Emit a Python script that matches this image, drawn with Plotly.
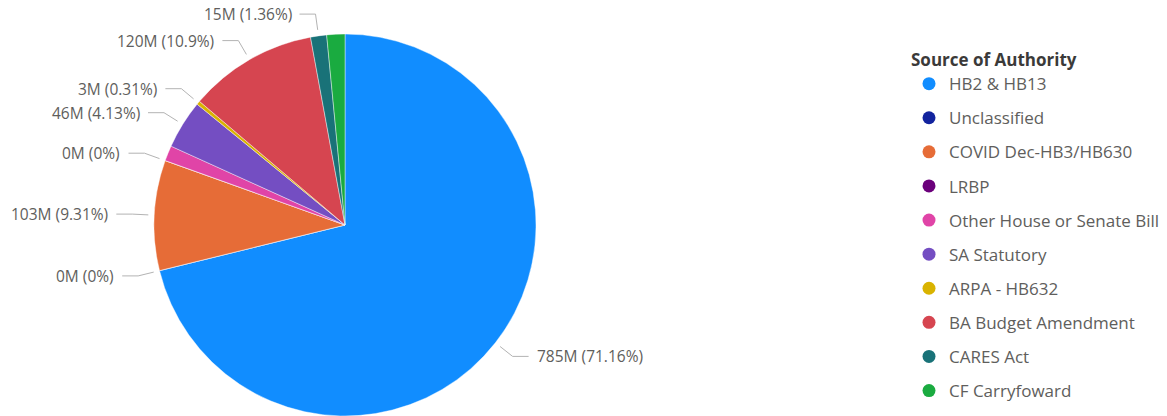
import math
import plotly.graph_objects as go

# ---- data ----
labels = ["HB2 & HB13", "Unclassified", "COVID Dec-HB3/HB630", "LRBP",
          "Other House or Senate Bill", "SA Statutory", "ARPA - HB632",
          "BA Budget Amendment", "CARES Act", "CF Carryfoward"]
values = [785.0, 0.04, 102.7, 0.03, 14.3, 45.55, 3.4, 120.25, 15.0, 16.88]  # millions
colors = ["#118DFF", "#12239E", "#E66C37", "#6B007B", "#E044A7",
          "#744EC2", "#D9B300", "#D64550", "#197278", "#1AAB40"]
show_label = [True, True, True, True, False, True, True, True, True, False]
legend_title = "Source of Authority"

# ---- layout geometry ----
W, H = 1167, 416
CX, CY, R = 345, 225, 191
FONT = "Segoe UI, Open Sans, sans-serif"
LABEL_COLOR = "#605E5C"
LINE_COLOR = "#B3B3B3"

fig = go.Figure()

fig.add_trace(go.Pie(
    labels=labels, values=values, sort=False, direction="clockwise", rotation=0,
    marker=dict(colors=colors, line=dict(color="rgba(255,255,255,0.7)", width=0.6)),
    textinfo="none", showlegend=False, hole=0,
    domain=dict(x=[(CX - R) / W, (CX + R) / W], y=[(H - CY - R) / H, (H - CY + R) / H]),
))

# legend entries with round markers
for lab, col in zip(labels, colors):
    fig.add_trace(go.Scatter(x=[None], y=[None], mode="markers", name=lab,
                             legendgroup=lab,
                             marker=dict(color=col, size=13, symbol="circle"),
                             xaxis="x", yaxis="y", hoverinfo="skip"))

# outside labels with leader lines computed from slice angles
total = sum(values)
cum = 0.0
shapes = []
annotations = []
for v, show in zip(values, show_label):
    mid = (cum + v / 2) / total * 2 * math.pi
    cum += v
    if not show:
        continue
    pct = v / total * 100
    pct_txt = f"{pct:.2f}".rstrip("0").rstrip(".")
    txt = f"{v:.0f}M ({pct_txt}%)"
    sx, sy = math.sin(mid), -math.cos(mid)
    x0, y0 = CX + (R + 6) * sx, CY + (R + 6) * sy
    x1, y1 = CX + (R + 22) * sx, CY + (R + 22) * sy
    side = 1 if sx >= 0 else -1
    x2 = x1 + side * 16
    shapes.append(dict(type="path", xref="x", yref="y",
                       path=f"M{x0:.1f},{y0:.1f} L{x1:.1f},{y1:.1f} L{x2:.1f},{y1:.1f}",
                       line=dict(color=LINE_COLOR, width=1)))
    annotations.append(dict(x=x2 + side * 6, y=y1, xref="x", yref="y", text=txt,
                            showarrow=False, xanchor="left" if side > 0 else "right",
                            yanchor="middle",
                            font=dict(family=FONT, size=15.5, color=LABEL_COLOR)))

fig.update_layout(
    width=W, height=H,
    margin=dict(l=0, r=0, t=0, b=0),
    paper_bgcolor="white", plot_bgcolor="rgba(0,0,0,0)",
    xaxis=dict(range=[0, W], visible=False, fixedrange=True, domain=[0, 1]),
    yaxis=dict(range=[H, 0], visible=False, fixedrange=True, domain=[0, 1]),
    shapes=shapes, annotations=annotations,
    showlegend=True,
    legend=dict(
        title=dict(text=f"<b>{legend_title}</b>",
                   font=dict(family=FONT, size=17, color="#3B3A39")),
        font=dict(family=FONT, size=17, color="#605E5C"),
        x=909 / W, xanchor="left", y=1 - 44 / H, yanchor="top",
        tracegroupgap=9, itemsizing="trace", bgcolor="rgba(0,0,0,0)",
    ),
)

fig.write_html("out.html")
